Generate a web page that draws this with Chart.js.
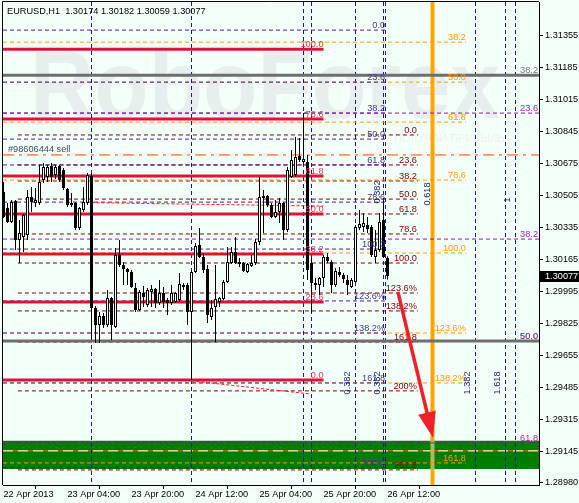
<!DOCTYPE html>
<html><head><meta charset="utf-8">
<script src="https://cdn.jsdelivr.net/npm/chart.js@4.4.1/dist/chart.umd.min.js"></script>
<style>html,body{margin:0;padding:0;background:#f3fff9;}canvas{display:block;}</style>
</head><body>
<canvas id="c" width="579" height="503"></canvas>
<script>
// ---------- texts ----------
const titleText = 'EURUSD,H1  1.30174 1.30182 1.30059 1.30077';
const orderLabel = '#98606444 sell';
const watermarkText = 'RoboForex';
const watermarkSub = 'ПОЛУЧАЙ ПРИБЫЛЬ';

// ---------- axes ----------
const xTickIdx = [0, 16, 32, 48, 64, 80, 96];
const xTickLabels = ['22 Apr 2013', '23 Apr 04:00', '23 Apr 20:00', '24 Apr 12:00', '25 Apr 04:00', '25 Apr 20:00', '26 Apr 12:00'];
const yTickValues = [1.31355, 1.31185, 1.31015, 1.30845, 1.30675, 1.30505, 1.30335, 1.30165, 1.29995, 1.29825, 1.29655, 1.29485, 1.29315, 1.29145, 1.28980];
const yTop = 1.31530, yBottom = 1.28969;
const xFirst = -0.125, xLast = 133.875;
const lastPrice = 1.30077;

// ---------- candles (H1) ----------
const opens  = [1.30522,1.30438,1.30363,1.30475,1.30268,1.30284,1.30295,1.30496,1.30464,1.30464,1.30586,1.30602,1.30660,1.30613,1.30660,1.30639,1.30538,1.30454,1.30464,1.30332,1.30427,1.30464,1.30607,1.29908,1.29818,1.29865,1.29818,1.29961,1.29807,1.30189,1.30136,1.30114,1.30098,1.30014,1.29897,1.29987,1.29924,1.29992,1.30008,1.29934,1.29987,1.29950,1.29934,1.29939,1.29950,1.30019,1.30030,1.29886,1.30098,1.30242,1.30178,1.30114,1.29860,1.29913,1.29939,1.29955,1.30045,1.30146,1.30204,1.30151,1.30146,1.30098,1.30130,1.30146,1.30257,1.30491,1.30501,1.30454,1.30390,1.30416,1.30464,1.30321,1.30602,1.30613,1.30713,1.30681,1.30681,1.30146,1.30040,1.30030,1.30067,1.30178,1.30151,1.30030,1.30098,1.30082,1.30056,1.30019,1.30045,1.30332,1.30337,1.30348,1.30337,1.30178,1.30215,1.30374,1.30174];
const highs  = [1.30575,1.30464,1.30480,1.30480,1.30374,1.30406,1.30533,1.30549,1.30544,1.30666,1.30676,1.30666,1.30676,1.30666,1.30666,1.30650,1.30544,1.30517,1.30469,1.30443,1.30549,1.30623,1.30623,1.29918,1.29886,1.29881,1.30003,1.29966,1.30226,1.30268,1.30151,1.30120,1.30109,1.30040,1.30003,1.30024,1.30014,1.30030,1.30014,1.30056,1.30019,1.29961,1.30030,1.29992,1.30093,1.30040,1.30040,1.30109,1.30252,1.30332,1.30199,1.30136,1.29950,1.30136,1.29966,1.30056,1.30231,1.30231,1.30284,1.30173,1.30151,1.30146,1.30189,1.30273,1.30602,1.30533,1.30507,1.30464,1.30480,1.30491,1.30469,1.30655,1.30745,1.30814,1.30809,1.30941,1.30719,1.30173,1.30067,1.30072,1.30189,1.30199,1.30162,1.30120,1.30125,1.30093,1.30082,1.30067,1.30348,1.30427,1.30411,1.30390,1.30348,1.30321,1.30411,1.30491,1.30182];
const lows   = [1.30385,1.30358,1.30358,1.30215,1.30146,1.30204,1.30268,1.30416,1.30443,1.30454,1.30570,1.30575,1.30575,1.30591,1.30575,1.30533,1.30443,1.30443,1.30321,1.30321,1.30416,1.30454,1.29738,1.29722,1.29722,1.29802,1.29807,1.29738,1.29802,1.30125,1.30030,1.30030,1.30014,1.29886,1.29892,1.29913,1.29913,1.29913,1.29908,1.29924,1.29908,1.29870,1.29924,1.29934,1.29939,1.30003,1.29818,1.29526,1.30093,1.30173,1.30093,1.29828,1.29844,1.29727,1.29913,1.29950,1.30040,1.30141,1.30141,1.30125,1.30098,1.30093,1.30125,1.30136,1.30242,1.30305,1.30443,1.30385,1.30385,1.30358,1.30268,1.30310,1.30597,1.30602,1.30681,1.30666,1.30056,1.29881,1.30003,1.29976,1.30019,1.30146,1.29987,1.30019,1.30072,1.30040,1.29976,1.30014,1.30040,1.30321,1.30310,1.30305,1.30178,1.30146,1.30204,1.30173,1.30059];
const closes = [1.30390,1.30363,1.30469,1.30268,1.30305,1.30401,1.30496,1.30469,1.30480,1.30575,1.30655,1.30655,1.30602,1.30655,1.30586,1.30544,1.30454,1.30464,1.30332,1.30438,1.30469,1.30613,1.29908,1.29818,1.29865,1.29818,1.29961,1.29818,1.30189,1.30136,1.30114,1.30098,1.30019,1.29897,1.29992,1.29966,1.30003,1.30008,1.29934,1.29987,1.29939,1.29934,1.29987,1.29987,1.30035,1.30030,1.29886,1.30098,1.30236,1.30178,1.30109,1.29870,1.29908,1.29955,1.29961,1.30045,1.30151,1.30204,1.30146,1.30141,1.30104,1.30141,1.30146,1.30257,1.30496,1.30501,1.30454,1.30390,1.30416,1.30464,1.30321,1.30639,1.30692,1.30708,1.30692,1.30697,1.30109,1.30040,1.30030,1.30067,1.30178,1.30157,1.30030,1.30104,1.30082,1.30061,1.30030,1.30056,1.30337,1.30353,1.30358,1.30326,1.30189,1.30215,1.30363,1.30178,1.30077];

// ---------- Fibonacci levels ----------
const crimsonLevels = [1.31280, 1.30909, 1.30607, 1.30406, 1.30194, 1.29939, 1.29526];
const crimsonLabels = ['100.0', '78.6', '61.8', '50.0', '38.2', '23.6', '0.0'];
const crimsonEnd = 80;

const purpleLevels = [1.31381, 1.31105, 1.30941, 1.30803, 1.30666, 1.30469, 1.30220, 1.29945, 1.29775, 1.29510, 1.29060];
const purpleLabels = ['0.0', '23.6', '38.2', '50.0', '61.8', '78.6', '100.0', '123.6%', '138.2%', '161.8', '200%'];
const purpleEnd = 95.4;

const orangeLevels = [1.31317, 1.31105, 1.30893, 1.30586, 1.30199, 1.29775, 1.29510, 1.29086];
const orangeLabels = ['38.2', '50.0', '61.8', '78.6', '100.0', '123.6%', '138.2%', '161.8'];
const orangeEnd = 115.6;

const maroonLevels = [1.30825, 1.30666, 1.30581, 1.30485, 1.30406, 1.30300, 1.30146, 1.29987, 1.29892, 1.29727, 1.29468, 1.29049];
const maroonLabels = ['0.0', '23.6', '38.2', '50.0', '61.8', '78.6', '100.0', '123.6%', '138.2%', '161.8', '200%', '261.8'];
const maroonStart = 3.6, maroonEnd = 103.6;

const rightLevels = [1.30941, 1.30273, 1.29733, 1.29192];
const rightLabels = ['23.6', '38.2', '50.0', '61.8'];

const grayLevels = [1.31142, 1.29733];
const grayLabels = ['38.2', '50.0'];

const orderLevel = 1.30719;
const zoneTop = 1.29203, zoneBottom = 1.29054, zoneMid = 1.29150;

// ---------- vertical objects ----------
const vLinesIdx = [22, 47, 75, 77, 88, 95, 95.5, 118, 125.5, 128];
const futureLineIdx = 107.25;
const trendA = [[22, 1.30466], [80, 1.30448]];
const trendB = [[47, 1.29521], [76.6, 1.29452]];
const arrowFrom = [98.6, 1.29993];
const arrowTo = [107.4, 1.29219];
const vertTexts = ['0.618', '0.382', '0.382', '0.382', '1.382', '1.618', '1'];
const vertTextIdx = [106.1, 93.4, 86.1, 93.4, 116.1, 123.6, 126.1];
const vertTextPrice = [1.30512, 1.30523, 1.29510, 1.29510, 1.29510, 1.29510, 1.30480];

// ---------- build datasets ----------
const FONT = '"Liberation Sans", Arial, sans-serif';
function hSegs(levels, x0, x1) {
  const d = [];
  levels.forEach(p => { d.push({x: x0, y: p}, {x: x1, y: p}, {x: x1, y: null}); });
  return d;
}
function lineDs(data, color, width, dash, order) {
  return {type: 'line', data, borderColor: color, borderWidth: width, borderDash: dash || [],
    pointRadius: 0, fill: false, tension: 0, spanGaps: false, order};
}
const idx = opens.map((_, i) => i);
const vData = [];
vLinesIdx.forEach(v => { vData.push({x: v, y: yTop}, {x: v, y: yBottom}, {x: v, y: null}); });

const datasets = [
  // green target zone
  {type: 'line', data: [{x: xFirst, y: zoneTop}, {x: xLast, y: zoneTop}], borderWidth: 0, borderColor: 'rgba(0,0,0,0)',
    backgroundColor: '#007c00', fill: {value: zoneBottom}, pointRadius: 0, order: 20},
  lineDs([{x: xFirst, y: zoneMid}, {x: xLast, y: zoneMid}], '#ff5a00', 1, [], 19),
  lineDs([{x: xFirst, y: zoneMid}, {x: xLast, y: zoneMid}], '#ffffff', 1, [10, 5], 18),
  lineDs(vData, '#1c1c72', 1, [4, 3], 17),
  lineDs([{x: futureLineIdx, y: yTop}, {x: futureLineIdx, y: yBottom}], '#ffa500', 4, [], 16),
  lineDs([{x: futureLineIdx, y: zoneTop}, {x: futureLineIdx, y: zoneBottom}], '#18e4ff', 2, [3, 2], 15),
  lineDs(hSegs(maroonLevels, maroonStart, maroonEnd), '#7a0000', 1, [4, 3], 14),
  lineDs(hSegs(orangeLevels, xFirst, orangeEnd), '#ff9a00', 1, [4, 3], 13),
  lineDs(hSegs(purpleLevels, xFirst, purpleEnd), '#5a1490', 1, [4, 3], 12),
  lineDs(hSegs(rightLevels, xFirst, xLast), '#8e1c9e', 1, [4, 3], 11),
  lineDs(hSegs(grayLevels, xFirst, xLast), '#6e6e6e', 3, [], 10),
  lineDs(hSegs(crimsonLevels, xFirst, crimsonEnd), '#dc143c', 3, [], 9),
  lineDs([{x: xFirst, y: orderLevel}, {x: xLast, y: orderLevel}], '#ff4500', 1, [11, 5, 3, 5], 8),
  lineDs(trendA.map(p => ({x: p[0], y: p[1]})), '#ff1a1a', 1, [3, 2], 7),
  lineDs(trendB.map(p => ({x: p[0], y: p[1]})), '#ff1a1a', 1, [3, 2], 7),
  // candles
  {type: 'bar', data: idx.map(i => ({x: i, y: [lows[i], highs[i]]})), backgroundColor: '#000000',
    barThickness: 1, grouped: false, inflateAmount: 0, borderWidth: 0, order: 2},
  {type: 'bar', data: idx.map(i => ({x: i, y: [Math.min(opens[i], closes[i]), Math.max(opens[i], closes[i])]})),
    backgroundColor: idx.map(i => closes[i] >= opens[i] ? '#ffffff' : '#000000'),
    borderColor: '#000000', borderWidth: 1, borderSkipped: false, barThickness: 3, grouped: false,
    inflateAmount: 0, minBarLength: 1, order: 1}
];

// ---------- overlay plugin ----------
const overlay = {
  id: 'overlay',
  beforeDatasetsDraw(chart) {
    const c = chart.ctx, a = chart.chartArea;
    c.save();
    c.beginPath(); c.rect(a.left, a.top, a.right - a.left, a.bottom - a.top); c.clip();
    c.fillStyle = '#e6efed';
    c.font = 'bold 96px ' + FONT;
    c.textBaseline = 'alphabetic';
    const w = c.measureText(watermarkText).width;
    c.save(); c.translate(30, 118); c.scale(470 / w, 1); c.fillText(watermarkText, 0, 0); c.restore();
    c.font = '11px ' + FONT;
    c.fillStyle = '#e9f2ef';
    c.fillText(watermarkSub, 394, 142);
    c.restore();
  },
  afterDatasetsDraw(chart) {
    const c = chart.ctx, a = chart.chartArea;
    const xs = chart.scales.x, ys = chart.scales.y;
    c.save();
    c.font = '9.2px ' + FONT;
    c.textBaseline = 'alphabetic';
    function group(levels, labels, endX, color) {
      c.fillStyle = color; c.textAlign = 'right';
      levels.forEach((p, k) => c.fillText(labels[k], endX, ys.getPixelForValue(p) - 2));
    }
    group(crimsonLevels, crimsonLabels, xs.getPixelForValue(crimsonEnd), '#e0335a');
    group(purpleLevels, purpleLabels, xs.getPixelForValue(purpleEnd), '#4a3590');
    group(orangeLevels, orangeLabels, xs.getPixelForValue(orangeEnd), '#ff9a00');
    group(maroonLevels, maroonLabels, xs.getPixelForValue(maroonEnd) - 1, '#7a0000');
    group(grayLevels, grayLabels, a.right - 1, '#777777');
    group(rightLevels, rightLabels, a.right - 1, '#9a2aa8');
    // rotated labels
    c.fillStyle = '#1c1c72'; c.textAlign = 'center'; c.textBaseline = 'middle';
    vertTexts.forEach((t, k) => {
      c.save();
      c.translate(xs.getPixelForValue(vertTextIdx[k]), ys.getPixelForValue(vertTextPrice[k]));
      c.rotate(-Math.PI / 2); c.fillText(t, 0, 0); c.restore();
    });
    // arrow
    const x0 = xs.getPixelForValue(arrowFrom[0]), y0 = ys.getPixelForValue(arrowFrom[1]);
    const x1 = xs.getPixelForValue(arrowTo[0]), y1 = ys.getPixelForValue(arrowTo[1]);
    const L = Math.hypot(x1 - x0, y1 - y0), dx = (x1 - x0) / L, dy = (y1 - y0) / L;
    const hl = 26, hw = 9, bx = x1 - dx * hl, by = y1 - dy * hl;
    c.strokeStyle = '#f0202a'; c.fillStyle = '#f0202a'; c.lineWidth = 3.5;
    c.beginPath(); c.moveTo(x0, y0); c.lineTo(bx + dx * 2, by + dy * 2); c.stroke();
    c.beginPath(); c.moveTo(x1, y1); c.lineTo(bx - dy * hw, by + dx * hw); c.lineTo(bx + dy * hw, by - dx * hw); c.closePath(); c.fill();
    // order label
    c.textAlign = 'left'; c.textBaseline = 'alphabetic';
    c.fillStyle = '#3c4660';
    c.fillText(orderLabel, 8, ys.getPixelForValue(orderLevel) - 3);
    c.restore();

    // frame, title, price box
    c.save();
    c.strokeStyle = '#000'; c.lineWidth = 1;
    c.beginPath();
    c.moveTo(a.left - 0.5, a.bottom); c.lineTo(a.left - 0.5, a.top - 0.5); c.lineTo(a.right, a.top - 0.5);
    c.stroke();
    c.font = '9.2px ' + FONT; c.fillStyle = '#000'; c.textAlign = 'left'; c.textBaseline = 'alphabetic';
    c.fillText(titleText, 7, 13.5);
    const py = ys.getPixelForValue(lastPrice);
    c.fillStyle = '#000'; c.fillRect(a.right + 1, Math.round(py) - 5, 579 - a.right - 1, 11);
    c.fillStyle = '#fff'; c.textBaseline = 'middle';
    c.fillText(lastPrice.toFixed(5), a.right + 6, Math.round(py) + 0.5);
    c.restore();
  }
};

new Chart(document.getElementById('c'), {
  type: 'bar',
  data: {datasets},
  options: {
    responsive: false, animation: false, events: [],
    layout: {padding: {left: 3, top: 2, right: 0, bottom: 0}},
    plugins: {legend: {display: false}, tooltip: {enabled: false}, title: {display: false}},
    scales: {
      x: {
        type: 'linear', min: xFirst, max: xLast, offset: false, position: 'bottom',
        grid: {drawOnChartArea: false, drawTicks: true, tickLength: 4, color: '#000'},
        border: {display: true, color: '#000'},
        ticks: {autoSkip: false, maxRotation: 0, minRotation: 0, align: 'start', padding: 0, color: '#000',
          font: {family: FONT, size: 9.2},
          callback: (v) => { const k = xTickIdx.indexOf(v); return k >= 0 ? xTickLabels[k] : ''; }},
        afterBuildTicks: (s) => { s.ticks = xTickIdx.map(v => ({value: v})); },
        afterFit: (s) => { s.height = 18; s.paddingLeft = 0; s.paddingRight = 0; }
      },
      y: {
        type: 'linear', position: 'right', min: yBottom, max: yTop,
        grid: {drawOnChartArea: false, drawTicks: true, tickLength: 4, color: '#000'},
        border: {display: true, color: '#000'},
        ticks: {padding: 2, color: '#000', font: {family: FONT, size: 9.2},
          callback: (v) => Number(v).toFixed(5)},
        afterBuildTicks: (s) => { s.ticks = yTickValues.map(v => ({value: v})); },
        afterFit: (s) => { s.width = 40; s.paddingTop = 0; s.paddingBottom = 0; }
      }
    }
  },
  plugins: [overlay]
});
</script>
</body></html>
